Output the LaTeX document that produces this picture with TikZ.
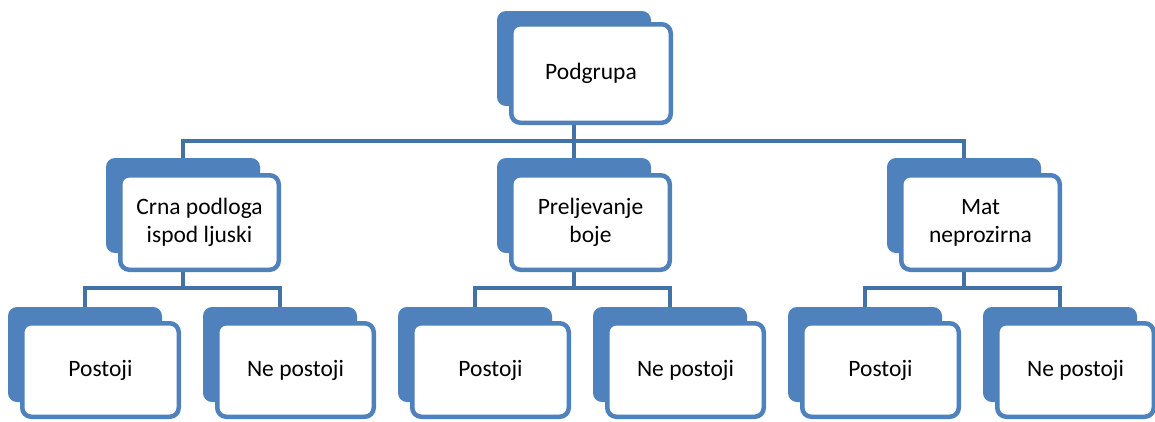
\documentclass[tikz,border=0pt]{standalone}
\usepackage{fontspec}
\setmainfont{Carlito}
\definecolor{boxblue}{HTML}{4F81BD}
\definecolor{lineblue}{HTML}{4472A6}
\begin{document}
\begin{tikzpicture}[x=1pt,y=-1pt,
  backcard/.style={fill=boxblue,draw=none,rounded corners=9pt,minimum width=154pt,minimum height=95pt,inner sep=0pt},
  frontcard/.style={fill=white,draw=boxblue,line width=4.5pt,rounded corners=9pt,inner sep=0pt,align=center,
     font=\fontsize{23.5}{28}\selectfont,text=black},
  topfront/.style={frontcard,minimum width=159.5pt,minimum height=98.5pt},
  midfront/.style={frontcard,minimum width=158.5pt,minimum height=94.5pt},
  botfront/.style={frontcard,minimum width=156.5pt,minimum height=93.5pt},
  conn/.style={draw=lineblue,line width=4.5pt}]
\useasboundingbox (0,0) rectangle (1155,421);
% top
\node[backcard] (tb) at (574,58.5) {};
\node[topfront] (tf) at (509+82,73.5) {Podgrupa};
% middle
\node[backcard] (m1b) at (183,205.5) {};
\node[midfront] (m1f) at (118+81.5,222.5) {Crna podloga\\ispod ljuski};
\node[backcard] (m2b) at (574,205.5) {};
\node[midfront] (m2f) at (509+81.5,222.5) {Preljevanje\\boje};
\node[backcard] (m3b) at (964,205.5) {};
\node[midfront] (m3f) at (899+81.5,222.5) {Mat\\neprozirna};
% bottom
\foreach \i/\x/\t in {1/8/Postoji,2/203/Ne postoji,3/398/Postoji,4/593/Ne postoji,5/788/Postoji,6/983/Ne postoji}{
  \node[backcard] (b\i b) at (\x+77,354.5) {};
  \node[botfront] (b\i f) at (\x+12+80.5,370) {\t};
}
% connectors
\coordinate (tj) at (574,141);
\draw[conn] (tf.south -| tb) -- (tj);
\draw[conn] (m1b.north) |- (tj) -| (m3b.north);
\draw[conn] (tj) -- (m2b.north);
\coordinate (j1) at (183,288);
\coordinate (j2) at (574,288);
\coordinate (j3) at (964,288);
\draw[conn] (m1f.south -| m1b) -- (j1);
\draw[conn] (b1b.north) |- (j1) -| (b2b.north);
\draw[conn] (m2f.south -| m2b) -- (j2);
\draw[conn] (b3b.north) |- (j2) -| (b4b.north);
\draw[conn] (m3f.south -| m3b) -- (j3);
\draw[conn] (b5b.north) |- (j3) -| (b6b.north);
\end{tikzpicture}
\end{document}
